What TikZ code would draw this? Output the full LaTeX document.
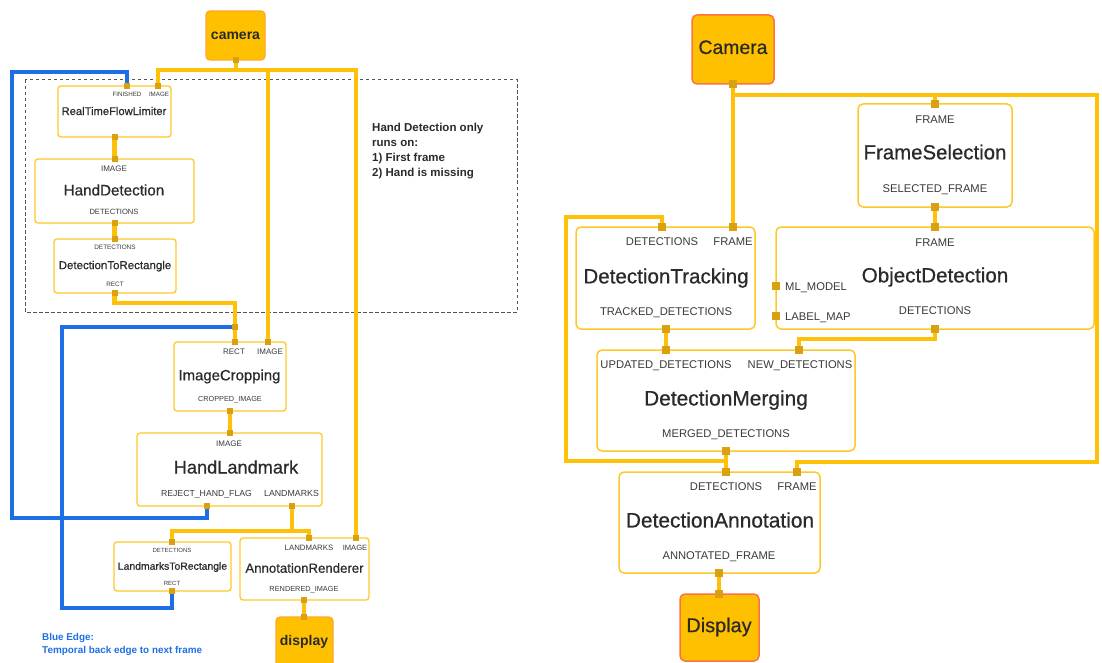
\documentclass[tikz,border=0pt]{standalone}
\usepackage{fontspec}
\setmainfont{Liberation Sans}
% slightly heavier face for the block titles
\newfontfamily\titlefont{Liberation Sans}[FakeBold=0.6]
\usetikzlibrary{fit}
\pgfdeclarelayer{bg}
\pgfsetlayers{bg,main}

\definecolor{linec}{HTML}{FFC107}
\definecolor{boxc}{HTML}{FFC829}
\definecolor{portc}{HTML}{D9A011}
\definecolor{srcfill}{HTML}{FFC000}
\definecolor{srcline}{HTML}{FFA726}
\definecolor{srcred}{HTML}{FF7043}
\definecolor{backc}{HTML}{1E6FE6}
\definecolor{labc}{HTML}{3A3A3A}
\definecolor{ttlc}{HTML}{2A2A2A}
\definecolor{dashc}{HTML}{555555}

% font size helper (size in pt)
\newcommand\fsz[1]{\fontsize{#1}{#1}\selectfont}
% \lab[opts]{name}{x}{y of text centre}{size}{text}
\newcommand\lab[6][]{\node[lbl,anchor=base,font=\fsz{#5},#1] (#2) at (#3,{#4+0.358*#5}) {#6};}
% block title: same placement, heavier face
\newcommand\ttl[5]{\node[lbl,anchor=base,text=ttlc,font=\titlefont\fsz{#4}] (#1) at (#2,{#3+0.358*#4}) {#5};}

\begin{document}
\begin{tikzpicture}[x=1pt,y=-1pt,
  box/.style={draw=boxc,line width=1.3pt,fill=white,rounded corners=3pt,inner sep=0pt},
  rbox/.style={box,line width=1.5pt,rounded corners=5pt},
  source/.style={draw=srcline,line width=1.3pt,fill=srcfill,rounded corners=4pt,inner sep=0pt},
  port/.style={fill=portc,inner sep=0pt,minimum size=6pt},
  rport/.style={port,minimum size=8pt},
  edge/.style={draw=linec,line width=4.5pt},
  redge/.style={draw=linec,line width=3.5pt},
  backedge/.style={draw=backc,line width=4.5pt},
  lbl/.style={text=labc,inner sep=0pt},
]
\useasboundingbox (0,0) rectangle (1102,663);
\clip (0,0) rectangle (1102,663);

%% ---------------- hand tracking graph ----------------
\node[source,fit={(206,11) (265,60)}] (cam1) {};
\node[box,fit={(58,86) (171,137)}] (rtfl) {};
\node[box,fit={(35,159) (194,223)}] (hd) {};
\node[box,fit={(54,239) (176,293)}] (d2r) {};
\node[box,fit={(174,342) (286,411)}] (ic) {};
\node[box,fit={(137,433) (322,506)}] (hl) {};
\node[box,fit={(114,542) (231,591)}] (l2r) {};
\node[box,fit={(240,538) (369,600)}] (ar) {};
\node[source,fit={(276,617) (333,668)}] (disp1) {};

% ports
\node[port] (cam1-out) at (236,60) {};
\node[port] (rtfl-fin) at (127,86) {};
\node[port] (rtfl-img) at (158,86) {};
\node[port] (rtfl-out) at (114.5,137) {};
\node[port] (hd-in) at (114.5,159) {};
\node[port] (hd-out) at (114.5,223) {};
\node[port] (d2r-in) at (114.5,239) {};
\node[port] (d2r-out) at (114.5,293) {};
\node[port] (ic-rect) at (235,342) {};
\node[port] (ic-img) at (268,342) {};
\node[port] (ic-out) at (230,411) {};
\node[port] (hl-in) at (230,433) {};
\node[port] (hl-rej) at (207,506) {};
\node[port] (hl-lm) at (292,506) {};
\node[port] (l2r-in) at (172,542) {};
\node[port] (l2r-out) at (172,591) {};
\node[port] (ar-lm) at (309,538) {};
\node[port] (ar-img) at (356,538) {};
\node[port] (ar-out) at (304,600) {};
\node[port] (disp1-in) at (304,617) {};
\node[port] (jct) at (235,327) {};

% bend points
\coordinate (b1) at (236,70);
\coordinate (b2) at (114.5,303);
\coordinate (b3) at (292,531);
\coordinate (fb1) at (12,72);
\coordinate (fb2) at (12,518);
\coordinate (fb3) at (62,608);
\coordinate (fb4) at (62,327);

% texts
\lab[font=\fsz{14}\bfseries,text=ttlc]{cam1-t}{235.5}{34}{14}{camera}
\lab{rtfl-l1}{127}{94}{6.2}{FINISHED}
\lab{rtfl-l2}{159}{94}{6.2}{IMAGE}
\ttl{rtfl-t}{114}{111}{11.2}{RealTimeFlowLimiter}
\lab{hd-l1}{114}{169}{8}{IMAGE}
\ttl{hd-t}{114}{190}{15.2}{HandDetection}
\lab{hd-l2}{114}{212}{7.6}{DETECTIONS}
\lab{d2r-l1}{115}{247}{6.4}{DETECTIONS}
\ttl{d2r-t}{115}{265}{11.5}{DetectionToRectangle}
\lab{d2r-l2}{115}{284}{6.4}{RECT}
\lab{ic-l1}{234}{352}{8}{RECT}
\lab{ic-l2}{270}{352}{8}{IMAGE}
\ttl{ic-t}{229.5}{375}{14.9}{ImageCropping}
\lab{ic-l3}{230}{399}{7.3}{CROPPED\_IMAGE}
\lab{hl-l1}{229}{444}{8}{IMAGE}
\ttl{hl-t}{236}{467}{18.2}{HandLandmark}
\lab{hl-l2}{206.5}{493}{8.7}{REJECT\_HAND\_FLAG}
\lab{hl-l3}{291.5}{493}{8.8}{LANDMARKS}
\lab{l2r-l1}{172}{550}{6}{DETECTIONS}
\ttl{l2r-t}{172.5}{566}{10.4}{LandmarksToRectangle}
\lab{l2r-l2}{172}{583}{6}{RECT}
\lab{ar-l1}{309}{548}{7.8}{LANDMARKS}
\lab{ar-l2}{355}{548}{7.6}{IMAGE}
\ttl{ar-t}{304.5}{568}{13.2}{AnnotationRenderer}
\lab{ar-l3}{304}{589}{7.35}{RENDERED\_IMAGE}
\lab[font=\fsz{14}\bfseries,text=ttlc]{disp1-t}{304}{640}{14}{display}

\lab[anchor=base west,text=ttlc]{note1}{372}{127}{11.5}{\bfseries Hand Detection only}
\lab[anchor=base west,text=ttlc]{note2}{372}{142}{11.5}{\bfseries runs on:}
\lab[anchor=base west,text=ttlc]{note3}{372}{157}{11.5}{\bfseries 1) First frame}
\lab[anchor=base west,text=ttlc]{note4}{372}{172}{11.5}{\bfseries 2) Hand is missing}
\lab[anchor=base west,text=backc]{key1}{42}{637}{9.9}{\bfseries Blue Edge:}
\lab[anchor=base west,text=backc]{key2}{42}{650}{9.9}{\bfseries Temporal back edge to next frame}

%% ---------------- object detection graph ----------------
\node[source,draw=srcred,line width=1.5pt,rounded corners=5pt,fit={(692,15) (774,84)}] (cam2) {};
\node[rbox,fit={(858,104) (1012,207)}] (fs) {};
\node[rbox,fit={(576,227) (755,329)}] (dt) {};
\node[rbox,fit={(776,227) (1094,329)}] (od) {};
\node[rbox,fit={(597,350) (855,451)}] (dm) {};
\node[rbox,fit={(619,472) (820,573)}] (da) {};
\node[source,draw=srcred,line width=1.5pt,rounded corners=5pt,fit={(680,594) (759,661)}] (disp2) {};

\node[rport] (cam2-out) at (733,84) {};
\node[rport] (fs-in) at (935,104) {};
\node[rport] (fs-out) at (935,207) {};
\node[rport] (dt-det) at (662,227) {};
\node[rport] (dt-frame) at (733,227) {};
\node[rport] (dt-out) at (666,329) {};
\node[rport] (od-in) at (935,227) {};
\node[rport] (od-out) at (935,329) {};
\node[rport] (od-ml) at (776,286) {};
\node[rport] (od-lm) at (776,316) {};
\node[rport] (dm-upd) at (666,350) {};
\node[rport] (dm-new) at (799,350) {};
\node[rport] (dm-out) at (726,451) {};
\node[rport] (da-det) at (726,472) {};
\node[rport] (da-frame) at (797,472) {};
\node[rport] (da-out) at (719,573) {};
\node[rport] (disp2-in) at (719,594) {};

\coordinate (r1) at (733,95);
\coordinate (r2) at (1097,95);
\coordinate (r3) at (1097,462);
\coordinate (r4) at (935,339);
\coordinate (r5) at (726,461);
\coordinate (r6) at (566,461);
\coordinate (r7) at (566,217);

\ttl{cam2-t}{733}{47}{19.4}{Camera}
\lab{fs-l1}{935}{119}{11.2}{FRAME}
\ttl{fs-t}{935}{152}{20.4}{FrameSelection}
\lab{fs-l2}{935}{188}{11.2}{SELECTED\_FRAME}
\lab{dt-l1}{662}{241}{11.2}{DETECTIONS}
\lab{dt-l2}{733}{241}{11.2}{FRAME}
\ttl{dt-t}{666}{276}{20.6}{DetectionTracking}
\lab{dt-l3}{666}{311}{11.2}{TRACKED\_DETECTIONS}
\lab{od-l1}{935}{242}{11.2}{FRAME}
\ttl{od-t}{935}{275}{20.6}{ObjectDetection}
\lab{od-l2}{935}{310}{11.2}{DETECTIONS}
\lab[anchor=base west]{od-l3}{785}{286}{11.2}{ML\_MODEL}
\lab[anchor=base west]{od-l4}{785}{316}{11.2}{LABEL\_MAP}
\lab{dm-l1}{666}{364}{11.2}{UPDATED\_DETECTIONS}
\lab{dm-l2}{800}{364}{11.2}{NEW\_DETECTIONS}
\ttl{dm-t}{726}{398}{20.9}{DetectionMerging}
\lab{dm-l3}{726}{433}{11.2}{MERGED\_DETECTIONS}
\lab{da-l1}{726}{486}{11.2}{DETECTIONS}
\lab{da-l2}{797}{486}{11.2}{FRAME}
\ttl{da-t}{720}{520}{20.9}{DetectionAnnotation}
\lab{da-l3}{719}{555}{11.2}{ANNOTATED\_FRAME}
\ttl{disp2-t}{719}{625}{19.9}{Display}

%% ---------------- connectors ----------------
\begin{pgfonlayer}{bg}
  \draw[dashc,line width=1pt,dash pattern=on 3.5pt off 2.5pt] (25,80) rectangle (517,312);

  % temporal back edges
  \draw[backedge] (hl-rej.center) |- (fb2) -- (fb1) -| (rtfl-fin.center);
  \draw[backedge] (l2r-out.center) |- (fb3) -- (fb4) -| (jct.center);

  % data edges
  \draw[edge] (cam1-out.center) -- (b1) -| (rtfl-img.center);
  \draw[edge] (b1) -| (ic-img.center);
  \draw[edge] (b1) -| (ar-img.center);
  \draw[edge] (rtfl-out.center) -- (hd-in.center);
  \draw[edge] (hd-out.center) -- (d2r-in.center);
  \draw[edge] (d2r-out.center) -- (b2) -| (ic-rect.center);
  \draw[edge] (ic-out.center) -- (hl-in.center);
  \draw[edge] (hl-lm.center) -- (b3) -| (l2r-in.center);
  \draw[edge] (b3) -| (ar-lm.center);
  \draw[edge] (ar-out.center) -- (disp1-in.center);

  \draw[redge] (cam2-out.center) -- (dt-frame.center);
  \draw[redge] (cam2-out.center) -- (r1) -| (fs-in.center);
  \draw[redge] (r1) -- (r2) -- (r3) -| (da-frame.center);
  \draw[redge] (fs-out.center) -- (od-in.center);
  \draw[redge] (od-out.center) -- (r4) -| (dm-new.center);
  \draw[redge] (dt-out.center) -- (dm-upd.center);
  \draw[redge] (dm-out.center) -- (da-det.center);
  \draw[redge] (dm-out.center) -- (r5) -- (r6) -- (r7) -| (dt-det.center);
  \draw[redge] (da-out.center) -- (disp2-in.center);
\end{pgfonlayer}
\end{tikzpicture}
\end{document}
